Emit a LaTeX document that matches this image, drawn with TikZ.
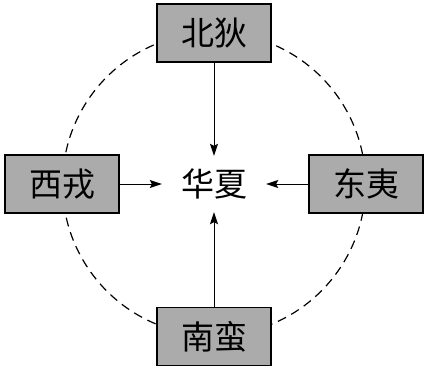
\documentclass[tikz,border=0pt]{standalone}
\usepackage{fontspec}
\newfontfamily\cjk{Noto Sans CJK SC}
\usetikzlibrary{arrows.meta}
\begin{document}
\begin{tikzpicture}[x=1pt,y=1pt,
  tribe/.style={draw=black, line width=1.2pt, fill=black!33, minimum width=114pt, minimum height=58pt, inner sep=0pt, font=\cjk\fontsize{33}{33}\selectfont},
  core/.style={minimum width=104pt, minimum height=56pt, inner sep=0pt, font=\cjk\fontsize{33}{33}\selectfont},
  arr/.style={line width=1pt, -{Stealth[length=12pt,width=8pt,inset=2pt]}},
  ring/.style={dash pattern=on 9pt off 6pt, line width=1.2pt}
]
\useasboundingbox (0,0) rectangle (427,368);
\coordinate (o) at (214,184);
\draw[ring] (o) circle (151.5);
\node[tribe] (n) at (214,335) {北狄};
\node[tribe] (w) at (62,184) {西戎};
\node[tribe] (e) at (366,184) {东夷};
\node[tribe] (s) at (214,31.5) {南蛮};
\node[core] (c) at (o) {华夏};
\draw[arr] (n) -- (c);
\draw[arr] (w) -- (c);
\draw[arr] (e) -- (c);
\draw[arr] (s) -- (c);
\end{tikzpicture}
\end{document}
